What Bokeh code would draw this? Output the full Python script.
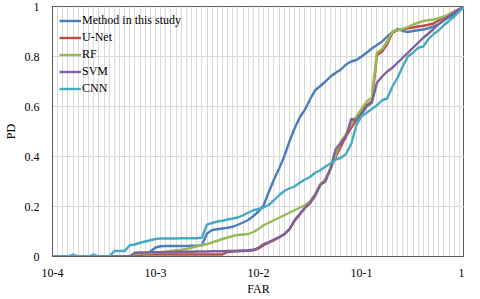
from bokeh.plotting import figure
from bokeh.models import Range1d, FixedTicker, Legend, LegendItem
from bokeh.embed import file_html
from bokeh.resources import INLINE

# ---- data (category index 0..80 along the FAR axis) ----
categories = list(range(81))
far_label_positions = [0, 20, 40, 60, 80]
far_labels = ["10-4", "10-3", "10-2", "10-1", "1"]
pd_ticks = [0, 0.2, 0.4, 0.6, 0.8, 1]
pd_labels = ["0", "0.2", "0.4", "0.6", "0.8", "1"]

method = [0] * 17 + [
    0.005, 0.012, 0.02, 0.036, 0.041, 0.042, 0.042, 0.042, 0.042, 0.042, 0.043, 0.043, 0.045,
    0.092, 0.106, 0.109, 0.112, 0.115, 0.119, 0.127, 0.136, 0.146, 0.162, 0.18,
    0.205, 0.258, 0.308, 0.352, 0.40, 0.46, 0.512, 0.556, 0.587, 0.628,
    0.665, 0.682, 0.70, 0.72, 0.735, 0.748, 0.768, 0.78, 0.786, 0.80,
    0.815, 0.832, 0.846, 0.86, 0.88, 0.897, 0.91, 0.902, 0.898, 0.902,
    0.905, 0.908, 0.913, 0.92, 0.93, 0.945, 0.957, 0.968, 0.985, 1.0]

unet = [0] * 16 + [0.008] * 18 + [
    0.018, 0.02, 0.021, 0.022, 0.023, 0.025, 0.032, 0.045, 0.055, 0.065, 0.076, 0.088,
    0.108, 0.142, 0.168, 0.193, 0.213, 0.243,
    0.285, 0.31, 0.35, 0.40, 0.44, 0.48, 0.515, 0.545, 0.58, 0.605, 0.62,
    0.805, 0.82, 0.85, 0.895, 0.905, 0.91, 0.913, 0.916, 0.92, 0.923, 0.927, 0.932,
    0.945, 0.955, 0.968, 0.98, 0.99, 1.0]

rf = [0] * 16 + [
    0.01, 0.012, 0.013, 0.014, 0.015, 0.017, 0.019, 0.022, 0.025, 0.027,
    0.03, 0.035, 0.04, 0.045, 0.05, 0.056, 0.063, 0.07, 0.076, 0.082,
    0.086, 0.088, 0.09, 0.098, 0.11, 0.125, 0.135, 0.145, 0.155, 0.165,
    0.175, 0.185, 0.195, 0.205, 0.22, 0.25, 0.29, 0.305, 0.35, 0.41,
    0.46, 0.49, 0.53, 0.56, 0.59, 0.62, 0.635, 0.815, 0.83, 0.86,
    0.90, 0.905, 0.91, 0.918, 0.928, 0.935, 0.942, 0.945, 0.948, 0.953,
    0.96, 0.969, 0.978, 0.99, 1.0]

svm = [0] * 16 + [
    0.015, 0.016, 0.016, 0.017, 0.017, 0.017, 0.018, 0.018, 0.018, 0.019,
    0.019, 0.019, 0.02, 0.02, 0.02, 0.021, 0.021, 0.021, 0.022, 0.022,
    0.023, 0.024, 0.025, 0.027, 0.035, 0.05, 0.058, 0.068, 0.078, 0.09,
    0.11, 0.145, 0.17, 0.195, 0.215, 0.245, 0.287, 0.30, 0.355, 0.43,
    0.455, 0.48, 0.55, 0.545, 0.57, 0.60, 0.615, 0.695, 0.72, 0.74,
    0.755, 0.775, 0.795, 0.815, 0.835, 0.855, 0.875, 0.892, 0.91, 0.93,
    0.945, 0.962, 0.975, 0.99, 1.0]

cnn = [
    0, 0, 0, 0, 0.008, 0, 0, 0, 0.008, 0,
    0, 0, 0.022, 0.022, 0.022, 0.045, 0.048, 0.055, 0.06, 0.065,
    0.07, 0.072, 0.072, 0.072, 0.072, 0.073, 0.073, 0.073, 0.073, 0.075,
    0.128, 0.134, 0.14, 0.143, 0.148, 0.152, 0.156, 0.165, 0.175, 0.185,
    0.19, 0.196, 0.206, 0.225, 0.245, 0.262, 0.272, 0.28, 0.295, 0.308,
    0.318, 0.335, 0.345, 0.36, 0.372, 0.388, 0.395, 0.41, 0.45, 0.525,
    0.56, 0.575, 0.59, 0.605, 0.625, 0.632, 0.68, 0.715, 0.76, 0.80,
    0.815, 0.835, 0.84, 0.87, 0.89, 0.905, 0.925, 0.943, 0.96, 0.98,
    1.0]

series = [
    ("Method in this study", method, "#4A7EBB"),
    ("U-Net", unet, "#BE4B48"),
    ("RF", rf, "#98B954"),
    ("SVM", svm, "#7D60A0"),
    ("CNN", cnn, "#46AAC5"),
]

FONT = "Liberation Serif"
GRID = "#d9d9d9"
AXIS = "#595959"

p = figure(width=464, height=298, output_backend="svg", toolbar_location=None,
           x_range=Range1d(0, 80), y_range=Range1d(0, 1),
           min_border_left=35, min_border_right=0, min_border_top=6, min_border_bottom=0,
           background_fill_color="white", border_fill_color="white")

p.outline_line_color = AXIS
p.outline_line_width = 1

p.xaxis.ticker = FixedTicker(ticks=far_label_positions, minor_ticks=categories)
p.xaxis.major_label_overrides = dict(zip(far_label_positions, far_labels))
p.yaxis.ticker = FixedTicker(ticks=pd_ticks)
p.yaxis.major_label_overrides = dict(zip(pd_ticks, pd_labels))

for ax in (p.xaxis[0], p.yaxis[0]):
    ax.axis_line_color = AXIS
    ax.major_tick_line_color = None
    ax.minor_tick_line_color = None
    ax.major_label_text_font = FONT
    ax.major_label_text_font_size = "12px"
    ax.major_label_text_color = "black"
    ax.axis_label_text_font = FONT
    ax.axis_label_text_font_size = "12px"
    ax.axis_label_text_font_style = "normal"
    ax.axis_label_text_color = "black"

p.xaxis.axis_label = "FAR"
p.yaxis.axis_label = "PD"
p.xaxis.major_label_standoff = 6
p.xaxis.axis_label_standoff = 2
p.yaxis.major_label_standoff = 7
p.yaxis.axis_label_standoff = 4

p.xgrid.grid_line_color = GRID
p.xgrid.minor_grid_line_color = GRID
p.ygrid.grid_line_color = GRID
p.ygrid.minor_grid_line_color = None

items = []
for name, vals, color in series:
    r = p.line(categories, vals, line_color=color, line_width=2.4, line_join="round")
    items.append(LegendItem(label=name, renderers=[r]))

legend = Legend(items=items, location="top_left")
legend.background_fill_alpha = 0
legend.border_line_color = None
legend.label_text_font = FONT
legend.label_text_font_size = "12px"
legend.label_text_color = "black"
legend.glyph_width = 22
legend.glyph_height = 15
legend.label_height = 15
legend.spacing = 2
legend.padding = 3
legend.margin = 7
legend.label_standoff = 1
p.add_layout(legend, "center")

open("out.html", "w").write(file_html(p, INLINE))
